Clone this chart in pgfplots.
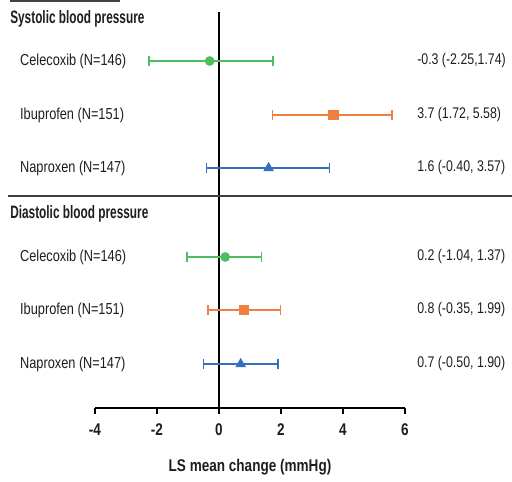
\documentclass[border=0pt]{standalone}
\usepackage{pgfplots}
\pgfplotsset{compat=1.18}
\usepackage{pgfplotstable}
\usepackage{fontspec}
\setmainfont{Liberation Sans}[FakeStretch=0.8]
\newfontfamily\bfx{Liberation Sans Bold}[FakeStretch=0.8]
\newfontfamily\hdr{Liberation Sans Bold}[FakeStretch=0.66]
\definecolor{cgreen}{RGB}{76,190,96}
\definecolor{corange}{RGB}{240,128,62}
\definecolor{cblue}{RGB}{52,112,190}
\definecolor{txt}{RGB}{30,30,30}

\pgfplotstableread{
x y em ep
-0.30 421 1.95 2.04
0.20 225 1.24 1.17
}\celecoxib
\pgfplotstableread{
x y em ep
3.70 367 1.98 1.88
0.80 172 1.15 1.19
}\ibuprofen
\pgfplotstableread{
x y em ep
1.60 314 2.00 1.97
0.70 118 1.20 1.20
}\naproxen

\begin{document}
\begin{tikzpicture}
\begin{axis}[
  x=31bp, y=1bp,
  xmin=-4, xmax=6, ymin=74, ymax=470,
  axis x line=bottom, axis y line=none,
  axis line style={line width=1.6bp, -},
  x axis line style={-},
  clip=false,
  xtick={-4,-2,0,2,4,6},
  xticklabels={-4,-2,0,2,4,6},
  xtick style={line width=1.6bp, black},
  tick align=outside,
  major tick length=6bp,
  xticklabel style={font=\fontsize{17}{17}\bfx, text=txt, yshift=-6bp},
  every axis plot/.append style={line width=1.6bp},
]
\draw[line width=1.6bp] (axis cs:0,74) -- (axis cs:0,470);
\draw[line width=1.2bp, color=black!75] (axis cs:-6.81,286) -- (axis cs:9.452,286);
\draw[line width=1.2bp, color=black!75] (axis cs:-6.74,481) -- (axis cs:-3.19,481);

\addplot[cgreen, only marks, mark=*, mark size=4bp,
  error bars/.cd, x dir=both, x explicit,
  error bar style={line width=1.6bp, cgreen},
  error mark options={line width=1.6bp, mark size=5bp, cgreen, rotate=90}]
  table[x=x, y=y, x error minus=em, x error plus=ep] {\celecoxib};
\addplot[corange, only marks, mark=square*, mark size=4.5bp,
  error bars/.cd, x dir=both, x explicit,
  error bar style={line width=1.6bp, corange},
  error mark options={line width=1.6bp, mark size=5bp, corange, rotate=90}]
  table[x=x, y=y, x error minus=em, x error plus=ep] {\ibuprofen};
\addplot[cblue, only marks, mark=triangle*, mark size=4.5bp,
  error bars/.cd, x dir=both, x explicit,
  error bar style={line width=1.6bp, cblue},
  error mark options={line width=1.6bp, mark size=5bp, cblue, rotate=90}]
  table[x=x, y=y, x error minus=em, x error plus=ep] {\naproxen};

\begin{scope}[every node/.style={text=txt, inner sep=0pt}]
\node[anchor=west, font=\fontsize{18}{18}\hdr] at (axis cs:-6.74,463) {Systolic blood pressure};
\node[anchor=west, font=\fontsize{18}{18}\hdr] at (axis cs:-6.74,268) {Diastolic blood pressure};
\node[anchor=west, font=\fontsize{16}{16}\selectfont] at (axis cs:-6.42,421) {Celecoxib (N=146)};
\node[anchor=west, font=\fontsize{16}{16}\selectfont] at (axis cs:-6.42,367) {Ibuprofen (N=151)};
\node[anchor=west, font=\fontsize{16}{16}\selectfont] at (axis cs:-6.42,314) {Naproxen (N=147)};
\node[anchor=west, font=\fontsize{16}{16}\selectfont] at (axis cs:-6.42,225) {Celecoxib (N=146)};
\node[anchor=west, font=\fontsize{16}{16}\selectfont] at (axis cs:-6.42,172) {Ibuprofen (N=151)};
\node[anchor=west, font=\fontsize{16}{16}\selectfont] at (axis cs:-6.42,118) {Naproxen (N=147)};
\node[anchor=west, font=\fontsize{15.5}{15.5}\selectfont] at (axis cs:6.39,421) {-0.3 (-2.25,1.74)};
\node[anchor=west, font=\fontsize{15.5}{15.5}\selectfont] at (axis cs:6.39,367) {3.7 (1.72, 5.58)};
\node[anchor=west, font=\fontsize{15.5}{15.5}\selectfont] at (axis cs:6.39,314) {1.6 (-0.40, 3.57)};
\node[anchor=west, font=\fontsize{15.5}{15.5}\selectfont] at (axis cs:6.39,225) {0.2 (-1.04, 1.37)};
\node[anchor=west, font=\fontsize{15.5}{15.5}\selectfont] at (axis cs:6.39,172) {0.8 (-0.35, 1.99)};
\node[anchor=west, font=\fontsize{15.5}{15.5}\selectfont] at (axis cs:6.39,118) {0.7 (-0.50, 1.90)};
\node[font=\fontsize{17}{17}\bfx] at (axis cs:1,15) {LS mean change (mmHg)};
\end{scope}

\coordinate (bl) at (axis cs:-7.065,0);
\coordinate (tr) at (axis cs:9.452,482);
\end{axis}
\pgfresetboundingbox
\path (bl) rectangle (tr);
\end{tikzpicture}
\end{document}
